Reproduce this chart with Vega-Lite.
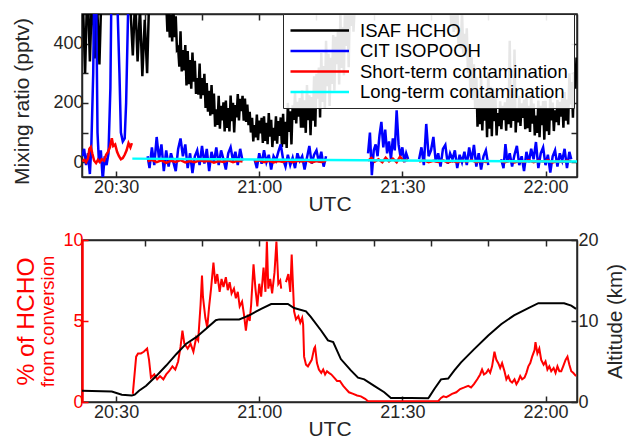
{
"$schema": "https://vega.github.io/schema/vega-lite/v6.json",
"padding": {"left": 11, "top": 12, "right": 2, "bottom": 0},
"config": {
 "font": "Liberation Sans",
 "view": {"stroke": "#262626", "strokeWidth": 1.5},
 "axis": {"labelFont": "Liberation Sans", "titleFont": "Liberation Sans", "labelFontSize": 18, "titleFontSize": 21, "titleFontWeight": "normal", "labelColor": "#262626", "titleColor": "#262626", "domainColor": "#262626", "tickColor": "#262626", "tickSize": -6, "tickWidth": 1.5, "domainWidth": 1.5, "grid": false, "labelPadding": 5}
},
"datasets": {
 "hcho": [{"t":23,"v":560},{"t":23.5,"v":300},{"t":24,"v":620},{"t":24.5,"v":340},{"t":25,"v":600},{"t":25.5,"v":350},{"t":26,"v":540},{"t":26.5,"v":330},{"t":27,"v":620},{"t":27.5,"v":700},{"t":28,"v":560},{"t":28.5,"v":750},{"t":29,"v":600},{"t":29.5,"v":800},{"t":30,"v":620},{"t":30.5,"v":760},{"t":31,"v":580},{"t":31.5,"v":720},{"t":32,"v":600},{"t":32.5,"v":680},{"t":33,"v":520},{"t":33.5,"v":360},{"t":34,"v":560},{"t":34.5,"v":340},{"t":35,"v":520},{"t":35.5,"v":290},{"t":36,"v":480},{"t":36.5,"v":300},{"t":37,"v":600},{"t":37.5,"v":650},{"t":38,"v":560},{"t":38.5,"v":700},{"t":39,"v":580},{"t":39.5,"v":640},{"t":40,"v":560},{"t":40.5,"v":540},{"t":40.75,"v":440},
 {"t":41,"v":526},{"t":41.25,"v":421},{"t":41.5,"v":498},{"t":41.75,"v":407},{"t":42,"v":520},{"t":42.25,"v":422},{"t":42.5,"v":492},{"t":42.75,"v":380},{"t":43,"v":386},{"t":43.25,"v":322},{"t":43.5,"v":442},{"t":43.75,"v":306},{"t":44,"v":378},{"t":44.25,"v":310},{"t":44.5,"v":395},{"t":44.75,"v":259},{"t":45,"v":375},{"t":45.25,"v":263},{"t":45.5,"v":345},{"t":45.75,"v":248},{"t":46,"v":370},{"t":46.25,"v":272},{"t":46.5,"v":342},{"t":46.75,"v":230},{"t":47,"v":284},{"t":47.25,"v":228},{"t":47.5,"v":333},{"t":47.75,"v":214},{"t":48,"v":284},{"t":48.25,"v":226},{"t":48.5,"v":298},{"t":48.75,"v":183},{"t":49,"v":267},{"t":49.25,"v":170},{"t":49.5,"v":241},{"t":49.75,"v":157},{"t":50,"v":260},{"t":50.25,"v":162},{"t":50.5,"v":232},{"t":50.75,"v":120},{"t":51,"v":178},{"t":51.25,"v":126},{"t":51.5,"v":224},{"t":51.75,"v":113},{"t":52,"v":190},{"t":52.25,"v":141},{"t":52.5,"v":202},{"t":52.75,"v":104},{"t":53,"v":208},{"t":53.25,"v":116},{"t":53.5,"v":183},{"t":53.75,"v":104},{"t":54,"v":225},{"t":54.25,"v":138},{"t":54.5,"v":200},{"t":54.75,"v":100},{"t":55,"v":193},{"t":55.25,"v":151},{"t":55.5,"v":230},{"t":55.75,"v":141},{"t":56,"v":214},{"t":56.25,"v":172},{"t":56.5,"v":224},{"t":56.75,"v":140},{"t":57,"v":215},{"t":57.25,"v":136},{"t":57.5,"v":194},{"t":57.75,"v":125},{"t":58,"v":170},{"t":58.25,"v":100},{"t":58.5,"v":150},{"t":58.75,"v":70},{"t":59,"v":125},{"t":59.25,"v":84},{"t":59.5,"v":161},{"t":59.75,"v":74},{"t":60,"v":140},{"t":60.25,"v":97},{"t":60.5,"v":150},{"t":60.75,"v":65},{"t":61,"v":155},{"t":61.25,"v":72},{"t":61.5,"v":133},{"t":61.75,"v":61},{"t":62,"v":166},{"t":62.25,"v":86},{"t":62.5,"v":143},{"t":62.75,"v":51},{"t":63,"v":116},{"t":63.25,"v":73},{"t":63.5,"v":155},{"t":63.75,"v":62},{"t":64,"v":139},{"t":64.25,"v":89},{"t":64.5,"v":151},{"t":64.75,"v":51},{"t":65,"v":163},{"t":65.25,"v":61},{"t":65.5,"v":136},{"t":65.75,"v":48},{"t":66,"v":200},{"t":66.25,"v":102},{"t":66.5,"v":172},{"t":66.75,"v":60},{"t":67,"v":192},{"t":67.25,"v":143},{"t":67.5,"v":234},{"t":67.75,"v":131},{"t":68,"v":204},{"t":68.25,"v":154},{"t":68.5,"v":216},{"t":68.75,"v":116},{"t":69,"v":243},{"t":69.25,"v":116},{"t":69.5,"v":209},{"t":69.75,"v":99},{"t":70,"v":260},{"t":70.25,"v":142},{"t":70.5,"v":226},{"t":70.75,"v":91},{"t":71,"v":220},{"t":71.25,"v":140},{"t":71.5,"v":290},{"t":71.75,"v":120},{"t":72,"v":298},{"t":72.25,"v":214},{"t":72.5,"v":319},{"t":72.75,"v":151},{"t":73,"v":368},{"t":73.25,"v":203},{"t":73.5,"v":324},{"t":73.75,"v":181},{"t":74,"v":410},{"t":74.25,"v":256},{"t":74.5,"v":366},{"t":74.75,"v":190},{"t":75,"v":352},{"t":75.25,"v":264},{"t":75.5,"v":429},{"t":75.75,"v":242},{"t":76,"v":423},{"t":76.25,"v":331},{"t":76.5,"v":446},{"t":76.75,"v":262},{"t":77,"v":505},{"t":77.25,"v":318},{"t":77.5,"v":455},{"t":77.75,"v":293},{"t":78,"v":560},{"t":78.25,"v":392},{"t":78.5,"v":512},{"t":78.75,"v":320},{"t":79,"v":540},{"t":79.25,"v":460},{"t":79.5,"v":610},{"t":79.75,"v":440},
 {"t":80,"v":520},{"t":80.5,"v":640},{"t":81,"v":530},{"t":81.5,"v":680},{"t":82,"v":540},{"t":82.5,"v":700},{"t":83,"v":560},{"t":83.5,"v":720},{"t":84,"v":560},{"t":84.5,"v":760},{"t":85,"v":580},{"t":85.5,"v":780},{"t":86,"v":600},{"t":86.5,"v":800},{"t":87,"v":620},{"t":87.5,"v":820},{"t":88,"v":640},{"t":88.5,"v":850},{"t":89,"v":660},{"t":89.5,"v":900},{"t":90,"v":700},{"t":90.5,"v":950},{"t":91,"v":720},{"t":91.5,"v":900},{"t":92,"v":680},{"t":92.5,"v":880},{"t":93,"v":700},{"t":93.5,"v":900},{"t":94,"v":650},{"t":94.5,"v":850},{"t":95,"v":620},{"t":95.5,"v":800},{"t":96,"v":600},{"t":96.5,"v":760},{"t":97,"v":580},{"t":97.5,"v":700},{"t":98,"v":540},{"t":98.5,"v":660},{"t":99,"v":520},{"t":99.5,"v":620},
 {"t":100,"v":583},{"t":100.25,"v":456},{"t":100.5,"v":549},{"t":100.75,"v":439},{"t":101,"v":560},{"t":101.25,"v":448},{"t":101.5,"v":528},{"t":101.75,"v":400},{"t":102,"v":452},{"t":102.25,"v":384},{"t":102.5,"v":512},{"t":102.75,"v":367},{"t":103,"v":433},{"t":103.25,"v":357},{"t":103.5,"v":452},{"t":103.75,"v":300},{"t":104,"v":398},{"t":104.25,"v":233},{"t":104.5,"v":354},{"t":104.75,"v":211},{"t":105,"v":330},{"t":105.25,"v":183},{"t":105.5,"v":288},{"t":105.75,"v":120},{"t":106,"v":214},{"t":106.25,"v":128},{"t":106.5,"v":289},{"t":106.75,"v":107},{"t":107,"v":214},{"t":107.25,"v":140},{"t":107.5,"v":232},{"t":107.75,"v":84},{"t":108,"v":305},{"t":108.25,"v":113},{"t":108.5,"v":254},{"t":108.75,"v":88},{"t":109,"v":250},{"t":109.25,"v":138},{"t":109.5,"v":218},{"t":109.75,"v":90},{"t":110,"v":166},{"t":110.25,"v":122},{"t":110.5,"v":205},{"t":110.75,"v":111},{"t":111,"v":190},{"t":111.25,"v":142},{"t":111.5,"v":202},{"t":111.75,"v":106},{"t":112,"v":218},{"t":112.25,"v":128},{"t":112.5,"v":410},{"t":112.75,"v":116},{"t":113,"v":230},{"t":113.25,"v":139},{"t":113.5,"v":380},{"t":113.75,"v":100},{"t":114,"v":182},{"t":114.25,"v":134},{"t":114.5,"v":224},{"t":114.75,"v":122},{"t":115,"v":199},{"t":115.25,"v":149},{"t":115.5,"v":211},{"t":115.75,"v":111},{"t":116,"v":217},{"t":116.25,"v":115},{"t":116.5,"v":190},{"t":116.75,"v":102},{"t":117,"v":225},{"t":117.25,"v":130},{"t":117.5,"v":198},{"t":117.75,"v":90},{"t":118,"v":157},{"t":118.25,"v":99},{"t":118.5,"v":208},{"t":118.75,"v":84},{"t":119,"v":190},{"t":119.25,"v":125},{"t":119.5,"v":206},{"t":119.75,"v":76},{"t":120,"v":207},{"t":120.25,"v":105},{"t":120.5,"v":180},{"t":120.75,"v":92},{"t":121,"v":225},{"t":121.25,"v":141},{"t":121.5,"v":201},{"t":121.75,"v":105},{"t":122,"v":175},{"t":122.25,"v":135},{"t":122.5,"v":210},{"t":122.75,"v":125},{"t":123,"v":204},{"t":123.25,"v":154},{"t":123.5,"v":216},{"t":123.75,"v":116},{"t":124,"v":237},{"t":124.25,"v":140},{"t":124.5,"v":211},{"t":124.75,"v":127},{"t":125,"v":300},{"t":125.25,"v":195},{"t":125.5,"v":270},{"t":125.75,"v":150},{"t":126,"v":304},{"t":126.25,"v":248},{"t":126.5,"v":353}],
 "isop": [{"g":1,"t":22.9,"v":20},{"g":1,"t":23.3,"v":45},{"g":1,"t":23.7,"v":-10},{"g":1,"t":24.1,"v":30},{"g":1,"t":24.5,"v":-40},{"g":1,"t":24.8,"v":50},{"g":1,"t":25.2,"v":300},{"g":1,"t":25.5,"v":700},{"g":1,"t":25.8,"v":600},{"g":1,"t":26.1,"v":100},{"g":1,"t":26.4,"v":0},{"g":1,"t":26.8,"v":40},{"g":1,"t":27.2,"v":-60},{"g":1,"t":27.6,"v":20},{"g":1,"t":28,"v":-10},{"g":1,"t":28.4,"v":30},{"g":1,"t":28.8,"v":250},{"g":1,"t":29.1,"v":700},{"g":1,"t":29.5,"v":650},{"g":1,"t":29.9,"v":600},{"g":1,"t":30.3,"v":520},{"g":1,"t":30.7,"v":300},{"g":1,"t":31,"v":100},{"g":1,"t":31.4,"v":70},{"g":1,"t":31.8,"v":80},{"g":1,"t":32.1,"v":200},{"g":1,"t":32.5,"v":500},{"g":1,"t":32.9,"v":700},{"g":1,"t":33.2,"v":800},
 {"g":2,"t":36.6,"v":20},{"g":2,"t":37,"v":-20},{"g":2,"t":37.5,"v":50},{"g":2,"t":38,"v":-10},{"g":2,"t":38.5,"v":85},{"g":2,"t":39,"v":10},{"g":2,"t":39.5,"v":60},{"g":2,"t":40,"v":-30},{"g":2,"t":40.5,"v":40},{"g":2,"t":41,"v":-15},{"g":2,"t":41.5,"v":30},{"g":2,"t":42,"v":0},{"g":2,"t":42.5,"v":-30},{"g":2,"t":43,"v":45},{"g":2,"t":43.5,"v":80},{"g":2,"t":44,"v":20},{"g":2,"t":44.5,"v":60},{"g":2,"t":45,"v":-20},{"g":2,"t":45.5,"v":30},{"g":2,"t":46,"v":-37},{"g":2,"t":46.5,"v":20},{"g":2,"t":47,"v":40},{"g":2,"t":47.5,"v":-10},{"g":2,"t":48,"v":55},{"g":2,"t":48.5,"v":-5},{"g":2,"t":49,"v":45},{"g":2,"t":49.5,"v":-30},{"g":2,"t":50,"v":35},{"g":2,"t":50.5,"v":0},{"g":2,"t":51,"v":50},{"g":2,"t":51.5,"v":-10},{"g":2,"t":52,"v":40},{"g":2,"t":52.5,"v":10},{"g":2,"t":53,"v":-25},{"g":2,"t":53.5,"v":30},{"g":2,"t":54,"v":50},{"g":2,"t":54.5,"v":5},{"g":2,"t":55,"v":35},{"g":2,"t":55.5,"v":-10},{"g":2,"t":56,"v":45},{"g":2,"t":56.5,"v":5},
 {"g":3,"t":59,"v":10},{"g":3,"t":59.5,"v":-20},{"g":3,"t":60,"v":30},{"g":3,"t":60.5,"v":-5},{"g":3,"t":61,"v":40},{"g":3,"t":61.5,"v":0},{"g":3,"t":62,"v":25},{"g":3,"t":62.5,"v":-25},{"g":3,"t":63,"v":20},{"g":3,"t":63.5,"v":5},{"g":3,"t":64,"v":35},{"g":3,"t":64.5,"v":60},{"g":3,"t":65,"v":10},{"g":3,"t":65.5,"v":-15},{"g":3,"t":66,"v":25},{"g":3,"t":66.5,"v":-10},{"g":3,"t":67,"v":15},{"g":3,"t":67.5,"v":-20},{"g":3,"t":68,"v":30},{"g":3,"t":68.5,"v":5},{"g":3,"t":69,"v":20},{"g":3,"t":69.5,"v":-25},{"g":3,"t":70,"v":15},{"g":3,"t":70.5,"v":55},{"g":3,"t":71,"v":-5},{"g":3,"t":71.5,"v":25},{"g":3,"t":72,"v":40},{"g":3,"t":72.5,"v":0},{"g":3,"t":73,"v":35},{"g":3,"t":73.5,"v":-15},{"g":3,"t":74,"v":20},
 {"g":4,"t":82.8,"v":30},{"g":4,"t":83.2,"v":100},{"g":4,"t":83.6,"v":-44},{"g":4,"t":84,"v":40},{"g":4,"t":84.4,"v":60},{"g":4,"t":84.8,"v":20},{"g":4,"t":85.2,"v":90},{"g":4,"t":85.6,"v":136},{"g":4,"t":86,"v":50},{"g":4,"t":86.4,"v":110},{"g":4,"t":86.8,"v":30},{"g":4,"t":87.2,"v":70},{"g":4,"t":87.6,"v":10},{"g":4,"t":88,"v":80},{"g":4,"t":88.4,"v":40},{"g":4,"t":88.8,"v":175},{"g":4,"t":89.2,"v":60},{"g":4,"t":89.6,"v":20},{"g":4,"t":90,"v":50},{"g":4,"t":90.4,"v":0},{"g":4,"t":90.8,"v":30},{"g":4,"t":91.2,"v":10},
 {"g":5,"t":93.5,"v":10},{"g":5,"t":94,"v":50},{"g":5,"t":94.5,"v":-10},{"g":5,"t":95,"v":129},{"g":5,"t":95.5,"v":20},{"g":5,"t":96,"v":40},{"g":5,"t":96.5,"v":85},{"g":5,"t":97,"v":0},{"g":5,"t":97.5,"v":30},{"g":5,"t":98,"v":-15},{"g":5,"t":98.5,"v":45},{"g":5,"t":99,"v":58},{"g":5,"t":99.5,"v":-5},{"g":5,"t":100,"v":30},{"g":5,"t":100.5,"v":10},{"g":5,"t":101,"v":40},{"g":5,"t":101.5,"v":-20},{"g":5,"t":102,"v":25},{"g":5,"t":102.5,"v":0},{"g":5,"t":103,"v":35},{"g":5,"t":103.5,"v":-10},{"g":5,"t":104,"v":50},{"g":5,"t":104.5,"v":5},{"g":5,"t":105,"v":58},{"g":5,"t":105.5,"v":-15},{"g":5,"t":106,"v":30},{"g":5,"t":106.5,"v":-25},{"g":5,"t":107,"v":20},{"g":5,"t":107.5,"v":40},{"g":5,"t":108,"v":-10},
 {"g":6,"t":110.7,"v":10},{"g":6,"t":111.2,"v":-20},{"g":6,"t":111.6,"v":61},{"g":6,"t":112,"v":0},{"g":6,"t":112.5,"v":30},{"g":6,"t":113,"v":-15},{"g":6,"t":113.5,"v":25},{"g":6,"t":114,"v":55},{"g":6,"t":114.5,"v":-10},{"g":6,"t":115,"v":20},{"g":6,"t":115.5,"v":-30},{"g":6,"t":116,"v":35},{"g":6,"t":116.5,"v":0},{"g":6,"t":117,"v":45},{"g":6,"t":117.5,"v":10},{"g":6,"t":118,"v":68},{"g":6,"t":118.5,"v":-20},{"g":6,"t":119,"v":30},{"g":6,"t":119.5,"v":50},{"g":6,"t":120,"v":-10},{"g":6,"t":120.5,"v":25},{"g":6,"t":121,"v":-35},{"g":6,"t":121.5,"v":20},{"g":6,"t":122,"v":40},{"g":6,"t":122.5,"v":-15},{"g":6,"t":123,"v":30},{"g":6,"t":123.5,"v":5},{"g":6,"t":124,"v":45},{"g":6,"t":124.5,"v":-20},{"g":6,"t":125,"v":35},{"g":6,"t":125.4,"v":10}],
 "short": [{"g":1,"t":22.9,"v":3},{"g":1,"t":23.3,"v":8},{"g":1,"t":23.7,"v":0},{"g":1,"t":24.1,"v":12},{"g":1,"t":24.4,"v":45},{"g":1,"t":24.7,"v":51},{"g":1,"t":25,"v":30},{"g":1,"t":25.4,"v":5},{"g":1,"t":25.8,"v":-3},{"g":1,"t":26.2,"v":8},{"g":1,"t":26.6,"v":0},{"g":1,"t":27,"v":10},{"g":1,"t":27.5,"v":5},{"g":1,"t":27.9,"v":25},{"g":1,"t":28.3,"v":35},{"g":1,"t":28.7,"v":50},{"g":1,"t":29.1,"v":81},{"g":1,"t":29.4,"v":55},{"g":1,"t":29.8,"v":60},{"g":1,"t":30.2,"v":35},{"g":1,"t":30.6,"v":20},{"g":1,"t":31,"v":10},{"g":1,"t":31.4,"v":14},{"g":1,"t":31.8,"v":25},{"g":1,"t":32.2,"v":40},{"g":1,"t":32.6,"v":64},{"g":1,"t":33,"v":50},{"g":1,"t":33.3,"v":64},
 {"g":2,"t":36.6,"v":3},{"g":2,"t":37.5,"v":8},{"g":2,"t":38.5,"v":0},{"g":2,"t":39.5,"v":6},{"g":2,"t":40.5,"v":-2},{"g":2,"t":41.5,"v":5},{"g":2,"t":42.5,"v":1},{"g":2,"t":43.5,"v":7},{"g":2,"t":44.5,"v":-1},{"g":2,"t":45.5,"v":4},{"g":2,"t":46.5,"v":0},{"g":2,"t":47.5,"v":6},{"g":2,"t":48.5,"v":2},{"g":2,"t":49.5,"v":5},{"g":2,"t":50.5,"v":-2},{"g":2,"t":51.5,"v":4},{"g":2,"t":52.5,"v":1},{"g":2,"t":53.5,"v":6},{"g":2,"t":54.5,"v":0},{"g":2,"t":55.5,"v":5},{"g":2,"t":56.5,"v":2},
 {"g":3,"t":59,"v":2},{"g":3,"t":60,"v":6},{"g":3,"t":61,"v":0},{"g":3,"t":62,"v":5},{"g":3,"t":63,"v":-1},{"g":3,"t":64,"v":4},{"g":3,"t":65,"v":1},{"g":3,"t":66,"v":6},{"g":3,"t":67,"v":0},{"g":3,"t":68,"v":5},{"g":3,"t":69,"v":2},{"g":3,"t":70,"v":6},{"g":3,"t":71,"v":-1},{"g":3,"t":72,"v":4},{"g":3,"t":73,"v":1},{"g":3,"t":74,"v":5},
 {"g":4,"t":82.8,"v":5},{"g":4,"t":83.5,"v":14},{"g":4,"t":84.2,"v":2},{"g":4,"t":85,"v":10},{"g":4,"t":85.8,"v":0},{"g":4,"t":86.5,"v":15},{"g":4,"t":87.2,"v":3},{"g":4,"t":88,"v":12},{"g":4,"t":88.8,"v":0},{"g":4,"t":89.5,"v":18},{"g":4,"t":90.3,"v":4},{"g":4,"t":91.2,"v":8},
 {"g":5,"t":93.5,"v":2},{"g":5,"t":94.5,"v":6},{"g":5,"t":95.5,"v":0},{"g":5,"t":96.5,"v":5},{"g":5,"t":97.5,"v":1},{"g":5,"t":98.5,"v":6},{"g":5,"t":99.5,"v":-1},{"g":5,"t":100.5,"v":4},{"g":5,"t":101.5,"v":0},{"g":5,"t":102.5,"v":5},{"g":5,"t":103.5,"v":2},{"g":5,"t":104.5,"v":6},{"g":5,"t":105.5,"v":0},{"g":5,"t":106.5,"v":4},{"g":5,"t":107.5,"v":1},{"g":5,"t":108.2,"v":5},
 {"g":6,"t":110.7,"v":3},{"g":6,"t":111.5,"v":0},{"g":6,"t":112.5,"v":5},{"g":6,"t":113.5,"v":-1},{"g":6,"t":114.5,"v":4},{"g":6,"t":115.5,"v":1},{"g":6,"t":116.5,"v":6},{"g":6,"t":117.5,"v":0},{"g":6,"t":118.5,"v":5},{"g":6,"t":119.5,"v":2},{"g":6,"t":120.5,"v":6},{"g":6,"t":121.5,"v":-1},{"g":6,"t":122.5,"v":4},{"g":6,"t":123.5,"v":1},{"g":6,"t":124.5,"v":5},{"g":6,"t":125.4,"v":2}],
 "long": [{"t":33.4,"v":12},{"t":126.6,"v":2}],
 "pct": [{"g":1,"t":33.5,"v":0.5},{"g":1,"t":34.2,"v":2.8},{"g":1,"t":34.6,"v":3.0},{"g":1,"t":35.2,"v":3.0},{"g":1,"t":35.8,"v":3.1},{"g":1,"t":36.5,"v":3.3},{"g":1,"t":36.9,"v":2.6},{"g":1,"t":37.3,"v":1.5},{"g":1,"t":38,"v":1.7},{"g":1,"t":38.6,"v":1.4},{"g":1,"t":39.2,"v":1.6},{"g":1,"t":39.9,"v":1.4},{"g":1,"t":40.5,"v":1.7},{"g":1,"t":41.1,"v":1.9},{"g":1,"t":41.8,"v":2.2},{"g":1,"t":42.4,"v":2.0},{"g":1,"t":43,"v":2.5},{"g":1,"t":43.5,"v":3.4},{"g":1,"t":43.9,"v":4.4},{"g":1,"t":44.3,"v":3.6},{"g":1,"t":45,"v":3.3},{"g":1,"t":45.6,"v":3.6},{"g":1,"t":46.2,"v":3.1},{"g":1,"t":46.8,"v":4.0},{"g":1,"t":47.2,"v":3.8},{"g":1,"t":47.7,"v":6.0},{"g":1,"t":48,"v":7.8},{"g":1,"t":48.2,"v":6.5},{"g":1,"t":48.7,"v":5.2},{"g":1,"t":49.1,"v":4.6},{"g":1,"t":49.5,"v":5.9},{"g":1,"t":49.9,"v":7.0},{"g":1,"t":50.4,"v":8.6},{"g":1,"t":50.8,"v":7.3},{"g":1,"t":51.2,"v":7.9},{"g":1,"t":51.7,"v":6.8},{"g":1,"t":52.1,"v":7.6},{"g":1,"t":52.5,"v":7.1},{"g":1,"t":53,"v":7.7},{"g":1,"t":53.4,"v":6.9},{"g":1,"t":53.8,"v":7.4},{"g":1,"t":54.2,"v":6.7},{"g":1,"t":54.7,"v":7.0},{"g":1,"t":55.1,"v":6.4},{"g":1,"t":55.5,"v":6.8},{"g":1,"t":55.9,"v":5.9},{"g":1,"t":56.4,"v":6.2},{"g":1,"t":56.8,"v":5.4},{"g":1,"t":57.2,"v":4.4},{"g":1,"t":57.6,"v":5.4},{"g":1,"t":58,"v":5.0},{"g":1,"t":58.3,"v":6.0},{"g":1,"t":58.8,"v":8.5},{"g":1,"t":59.2,"v":7.0},{"g":1,"t":59.6,"v":5.9},{"g":1,"t":60,"v":7.3},{"g":1,"t":60.4,"v":6.5},{"g":1,"t":60.9,"v":8.3},{"g":1,"t":61.3,"v":6.8},{"g":1,"t":61.6,"v":9.9},{"g":1,"t":61.9,"v":7.0},{"g":1,"t":62.3,"v":7.6},{"g":1,"t":62.7,"v":6.7},{"g":1,"t":63.2,"v":8.0},{"g":1,"t":63.6,"v":9.9},{"g":1,"t":64,"v":7.3},{"g":1,"t":64.4,"v":7.5},{"g":1,"t":64.6,"v":7.0},
 {"g":2,"t":65.6,"v":7.4},{"g":2,"t":66.1,"v":7.9},{"g":2,"t":66.5,"v":6.8},{"g":2,"t":66.8,"v":9.1},{"g":2,"t":67.1,"v":7.0},{"g":2,"t":67.3,"v":5.6},{"g":2,"t":67.7,"v":5.1},{"g":2,"t":68.2,"v":5.3},{"g":2,"t":68.6,"v":4.9},{"g":2,"t":69,"v":5.2},{"g":2,"t":69.2,"v":4.8},{"g":2,"t":69.4,"v":2.8},{"g":2,"t":69.8,"v":2.3},{"g":2,"t":70.2,"v":2.2},{"g":2,"t":70.6,"v":2.4},{"g":2,"t":71,"v":2.6},{"g":2,"t":71.5,"v":3.3},{"g":2,"t":71.7,"v":3.4},{"g":2,"t":72.1,"v":2.4},{"g":2,"t":72.5,"v":2.0},{"g":2,"t":73,"v":1.8},{"g":2,"t":73.4,"v":2.0},{"g":2,"t":73.8,"v":1.7},{"g":2,"t":74.2,"v":1.9},{"g":2,"t":74.6,"v":1.8},{"g":2,"t":75.1,"v":1.7},{"g":2,"t":75.7,"v":1.5},{"g":2,"t":76.3,"v":1.3},{"g":2,"t":76.9,"v":1.3},{"g":2,"t":77.6,"v":1.0},{"g":2,"t":78.2,"v":0.8},{"g":2,"t":78.8,"v":0.6},{"g":2,"t":79.7,"v":0.5},{"g":2,"t":80.5,"v":0.4},{"g":2,"t":81.3,"v":0.35},{"g":2,"t":82.2,"v":0.2},{"g":2,"t":82.8,"v":0.05},{"g":2,"t":87.6,"v":0.05},{"g":2,"t":93.9,"v":0.05},{"g":2,"t":97.5,"v":0.05},{"g":2,"t":98.1,"v":0.25},{"g":2,"t":98.6,"v":0.35},{"g":2,"t":99.2,"v":0.3},{"g":2,"t":99.8,"v":0.4},{"g":2,"t":100.4,"v":0.5},{"g":2,"t":101.3,"v":0.6},{"g":2,"t":102.1,"v":0.8},{"g":2,"t":103,"v":0.9},{"g":2,"t":103.8,"v":1.0},{"g":2,"t":104.4,"v":0.9},{"g":2,"t":105,"v":1.1},{"g":2,"t":105.7,"v":1.4},{"g":2,"t":106.3,"v":1.7},{"g":2,"t":106.7,"v":2.0},{"g":2,"t":107.1,"v":1.7},{"g":2,"t":107.6,"v":1.8},{"g":2,"t":108,"v":2.0},{"g":2,"t":108.4,"v":1.8},{"g":2,"t":108.8,"v":2.2},{"g":2,"t":109.3,"v":3.1},{"g":2,"t":109.7,"v":2.6},{"g":2,"t":110.1,"v":2.4},{"g":2,"t":110.5,"v":2.1},{"g":2,"t":110.9,"v":2.4},{"g":2,"t":111.4,"v":1.9},{"g":2,"t":111.8,"v":1.4},{"g":2,"t":112.2,"v":1.6},{"g":2,"t":112.6,"v":1.3},{"g":2,"t":113,"v":1.2},{"g":2,"t":113.5,"v":1.4},{"g":2,"t":113.9,"v":1.1},{"g":2,"t":114.3,"v":1.3},{"g":2,"t":114.7,"v":1.6},{"g":2,"t":115.1,"v":1.4},{"g":2,"t":115.6,"v":1.5},{"g":2,"t":116,"v":1.8},{"g":2,"t":116.4,"v":2.2},{"g":2,"t":116.8,"v":2.4},{"g":2,"t":117.2,"v":2.8},{"g":2,"t":117.7,"v":3.2},{"g":2,"t":117.9,"v":3.7},{"g":2,"t":118.3,"v":3.0},{"g":2,"t":118.7,"v":3.3},{"g":2,"t":119.1,"v":2.6},{"g":2,"t":119.6,"v":2.3},{"g":2,"t":120,"v":2.5},{"g":2,"t":120.4,"v":2.0},{"g":2,"t":120.8,"v":2.2},{"g":2,"t":121.2,"v":1.9},{"g":2,"t":121.7,"v":2.1},{"g":2,"t":122.1,"v":1.8},{"g":2,"t":122.5,"v":2.2},{"g":2,"t":122.9,"v":1.9},{"g":2,"t":123.3,"v":1.9},{"g":2,"t":123.7,"v":2.2},{"g":2,"t":124.2,"v":2.6},{"g":2,"t":124.6,"v":2.8},{"g":2,"t":125,"v":2.3},{"g":2,"t":125.4,"v":1.9},{"g":2,"t":125.8,"v":1.8},{"g":2,"t":126.4,"v":1.6}],
 "alt": [{"t":22.85,"v":1.4},{"t":29.1,"v":1.3},{"t":31.2,"v":0.9},{"t":33.3,"v":0.8},{"t":33.9,"v":0.9},{"t":34.8,"v":1.4},{"t":36.3,"v":2.0},{"t":38.4,"v":3.2},{"t":40.5,"v":4.5},{"t":42.6,"v":5.9},{"t":44.7,"v":7.2},{"t":46.8,"v":8.0},{"t":48.8,"v":9.0},{"t":50.9,"v":10.1},{"t":51.6,"v":10.2},{"t":55.8,"v":10.2},{"t":57.9,"v":10.7},{"t":60.4,"v":11.5},{"t":62.5,"v":12.1},{"t":66,"v":12.1},{"t":67.3,"v":11.6},{"t":69.8,"v":11.2},{"t":70.8,"v":10.5},{"t":73,"v":8.8},{"t":74.4,"v":7.6},{"t":75.5,"v":7.4},{"t":77.1,"v":5.3},{"t":79.2,"v":3.9},{"t":80.7,"v":3.0},{"t":82,"v":2.8},{"t":84.1,"v":2.0},{"t":86.2,"v":1.2},{"t":87.6,"v":0.5},{"t":91.8,"v":0.5},{"t":95.4,"v":0.45},{"t":95.6,"v":0.6},{"t":96.7,"v":1.6},{"t":98.1,"v":2.8},{"t":99.6,"v":2.9},{"t":100.9,"v":3.9},{"t":102.3,"v":4.9},{"t":105,"v":6.5},{"t":108,"v":8.2},{"t":110.7,"v":9.6},{"t":113.4,"v":10.7},{"t":116.4,"v":11.6},{"t":118.5,"v":12.2},{"t":123.9,"v":12.2},{"t":125.4,"v":11.9},{"t":126.4,"v":11.5}]
},
"bounds": "flush",
"spacing": 63,
"resolve": {"scale": {"color": "independent"}, "legend": {"color": "independent"}},
"vconcat": [
 {
  "width": 495, "height": 163,
  "layer": [
   {"data": {"name": "hcho"}, "mark": {"type": "line", "clip": true, "strokeWidth": 2.5},
    "encoding": {
     "x": {"field": "t", "type": "quantitative", "scale": {"domain": [22.85, 126.6], "nice": false, "zero": false},
       "axis": {"orient": "bottom", "values": [30, 60, 90, 120], "labelExpr": "(20 + floor(datum.value / 60)) + ':' + (datum.value % 60 < 10 ? '0' : '') + (datum.value % 60)", "title": "UTC", "labelPadding": 7, "titlePadding": -3}},
     "y": {"field": "v", "type": "quantitative", "scale": {"domain": [-50, 500], "nice": false, "zero": false},
       "axis": {"orient": "left", "values": [0, 100, 200, 300, 400], "labelExpr": "datum.value % 200 == 0 ? datum.label : ''", "title": "Mixing ratio (pptv)", "titlePadding": 20, "titleY": 87}},
     "color": {"datum": "ISAF HCHO", "type": "nominal",
       "scale": {"domain": ["ISAF HCHO", "CIT ISOPOOH", "Short-term contamination", "Long-term contamination"], "range": ["#000000", "#0000ff", "#ff0000", "#00ffff"]},
       "legend": {"orient": "none", "legendX": 201, "legendY": 0, "title": null, "symbolType": "M-1,0H5.5", "symbolSize": 324, "symbolStrokeWidth": 2.5, "labelFontSize": 18.5, "labelFont": "Liberation Sans", "labelColor": "#000000", "labelLimit": 400, "labelOffset": 50, "fillColor": "rgba(255,255,255,0.9)", "strokeColor": "#262626", "padding": 6, "rowPadding": 0.5, "cornerRadius": 0}}
    }},
   {"data": {"name": "isop"}, "mark": {"type": "line", "clip": true, "strokeWidth": 2.5},
    "encoding": {
     "x": {"field": "t", "type": "quantitative", "scale": {"domain": [22.85, 126.6], "nice": false, "zero": false},
       "axis": {"orient": "top", "values": [24, 36, 48, 60, 72, 84, 96, 108, 120], "labels": false, "title": null}},
     "y": {"field": "v", "type": "quantitative", "scale": {"domain": [-50, 500], "nice": false, "zero": false},
       "axis": {"orient": "right", "values": [0, 100, 200, 300, 400], "labels": false, "title": null}},
     "color": {"datum": "CIT ISOPOOH", "type": "nominal"},
     "detail": {"field": "g", "type": "nominal"}
    }},
   {"data": {"name": "short"}, "mark": {"type": "line", "clip": true, "strokeWidth": 2.5},
    "encoding": {
     "x": {"field": "t", "type": "quantitative", "scale": {"domain": [22.85, 126.6], "nice": false, "zero": false}, "axis": null},
     "y": {"field": "v", "type": "quantitative", "scale": {"domain": [-50, 500], "nice": false, "zero": false}, "axis": null},
     "color": {"datum": "Short-term contamination", "type": "nominal"},
     "detail": {"field": "g", "type": "nominal"}
    }},
   {"data": {"name": "long"}, "mark": {"type": "line", "clip": true, "strokeWidth": 2.5},
    "encoding": {
     "x": {"field": "t", "type": "quantitative", "scale": {"domain": [22.85, 126.6], "nice": false, "zero": false}, "axis": null},
     "y": {"field": "v", "type": "quantitative", "scale": {"domain": [-50, 500], "nice": false, "zero": false}, "axis": null},
     "color": {"datum": "Long-term contamination", "type": "nominal"}
    }}
  ],
  "resolve": {"axis": {"x": "independent", "y": "independent"}}
 },
 {
  "width": 495, "height": 162,
  "layer": [
   {"data": {"name": "pct"}, "mark": {"type": "line", "clip": true, "strokeWidth": 2, "color": "#ff0000"},
    "encoding": {
     "x": {"field": "t", "type": "quantitative", "scale": {"domain": [22.85, 126.6], "nice": false, "zero": false},
       "axis": {"orient": "bottom", "values": [30, 60, 90, 120], "labelExpr": "(20 + floor(datum.value / 60)) + ':' + (datum.value % 60 < 10 ? '0' : '') + (datum.value % 60)", "title": "UTC", "labelPadding": 7, "titlePadding": -3}},
     "y": {"field": "v", "type": "quantitative", "scale": {"domain": [0, 10], "nice": false, "zero": false},
       "axis": {"orient": "left", "values": [0, 5, 10], "title": "from conversion", "titleFontSize": 18.5, "titleColor": "#ff0000", "labelColor": "#ff0000", "domainColor": "#ff0000", "tickColor": "#ff0000", "domainWidth": 2.5, "titlePadding": 5}},
     "detail": {"field": "g", "type": "nominal"}
    }},
   {"data": {"name": "alt"}, "mark": {"type": "line", "clip": true, "strokeWidth": 2, "color": "#000000"},
    "encoding": {
     "x": {"field": "t", "type": "quantitative", "scale": {"domain": [22.85, 126.6], "nice": false, "zero": false},
       "axis": {"orient": "top", "values": [36, 48, 60, 72, 84, 96, 108, 120], "labels": false, "title": null}},
     "y": {"field": "v", "type": "quantitative", "scale": {"domain": [0, 20], "nice": false, "zero": false},
       "axis": {"orient": "right", "values": [0, 10, 20], "title": "Altitude (km)", "titleFontSize": 20.5, "titleAngle": 270, "titleBaseline": "top", "titlePadding": 7, "labelPadding": 7}}
    }},
   {"data": {"name": "pct"}, "mark": {"type": "line", "clip": true, "opacity": 0},
    "encoding": {
     "x": {"field": "t", "type": "quantitative", "scale": {"domain": [22.85, 126.6], "nice": false, "zero": false}, "axis": null},
     "y": {"field": "v", "type": "quantitative", "scale": {"domain": [0, 10], "nice": false, "zero": false},
       "axis": {"orient": "left", "title": "% of HCHO", "labels": false, "ticks": false, "domain": false, "titleFontSize": 24.5, "titleColor": "#ff0000", "titlePadding": 44}},
     "detail": {"field": "g", "type": "nominal"}
    }}
  ],
  "resolve": {"scale": {"y": "independent"}, "axis": {"x": "independent", "y": "independent"}}
 }
]
}
